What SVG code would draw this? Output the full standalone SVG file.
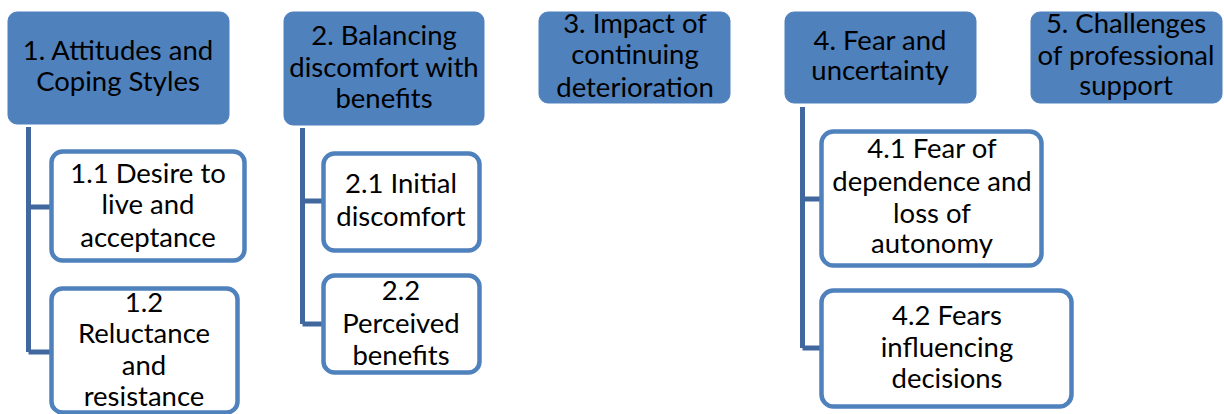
<svg xmlns="http://www.w3.org/2000/svg" width="1224" height="414" viewBox="0 0 1224 414">
<style>
.top{fill:#4F81BD;stroke:#4F81BD;stroke-width:1}
.sub{fill:#ffffff;stroke:#4F81BD;stroke-width:4.5}
.con{fill:none;stroke:#41689E;stroke-width:5}
text{font-family:Lato,"Liberation Sans",sans-serif;font-size:27.5px;fill:#000;text-anchor:middle}
</style>
<rect width="1224" height="414" fill="#fff"/>
<g id="connectors">
<path class="con" d="M28.5,127 V352 M28.5,207 H50 M28.5,352 H50"/>
<path class="con" d="M302.5,128 V324 M302.5,201 H322 M302.5,324 H322"/>
<path class="con" d="M802.5,107 V348 M802.5,199 H820 M802.5,348 H820"/>
</g>
<g id="n1"><rect class="top" x="8" y="12" width="221" height="112" rx="9"/>
<text x="118" y="60">1. Attitudes and</text><text x="118" y="91">Coping Styles</text></g>
<g id="n11"><rect class="sub" x="51.5" y="151.5" width="193" height="109" rx="11"/>
<text x="148" y="183">1.1 Desire to</text><text x="148" y="214">live and</text><text x="148" y="247">acceptance</text></g>
<g id="n12"><rect class="sub" x="51.5" y="288.5" width="186" height="124" rx="11"/>
<text x="144" y="312">1.2</text><text x="144" y="343">Reluctance</text><text x="144" y="375">and</text><text x="144" y="406">resistance</text></g>
<g id="n2"><rect class="top" x="284" y="12" width="200" height="113" rx="9"/>
<text x="384" y="45">2. Balancing</text><text x="384" y="77">discomfort with</text><text x="384" y="108">benefits</text></g>
<g id="n21"><rect class="sub" x="323.5" y="153.5" width="156" height="97" rx="11"/>
<text x="401" y="193">2.1 Initial</text><text x="401" y="226">discomfort</text></g>
<g id="n22"><rect class="sub" x="323.5" y="275.5" width="156" height="97" rx="11"/>
<text x="401" y="300">2.2</text><text x="401" y="333">Perceived</text><text x="401" y="365">benefits</text></g>
<g id="n3"><rect class="top" x="539" y="12" width="191" height="91" rx="9"/>
<text x="635" y="33">3. Impact of</text><text x="635" y="64">continuing</text><text x="635" y="97">deterioration</text></g>
<g id="n4"><rect class="top" x="785" y="12" width="191" height="91" rx="9"/>
<text x="880" y="50">4. Fear and</text><text x="880" y="80">uncertainty</text></g>
<g id="n41"><rect class="sub" x="821.5" y="131.5" width="220" height="134" rx="12"/>
<text x="932" y="158">4.1 Fear of</text><text x="932" y="191">dependence and</text><text x="932" y="223">loss of</text><text x="932" y="253">autonomy</text></g>
<g id="n42"><rect class="sub" x="821.5" y="290.5" width="250" height="116" rx="12"/>
<text x="947" y="325">4.2 Fears</text><text x="947" y="357">influencing</text><text x="947" y="388">decisions</text></g>
<g id="n5"><rect class="top" x="1031" y="12" width="191" height="91" rx="9"/>
<text x="1126" y="33">5. Challenges</text><text x="1126" y="65">of professional</text><text x="1126" y="95">support</text></g>
</svg>
